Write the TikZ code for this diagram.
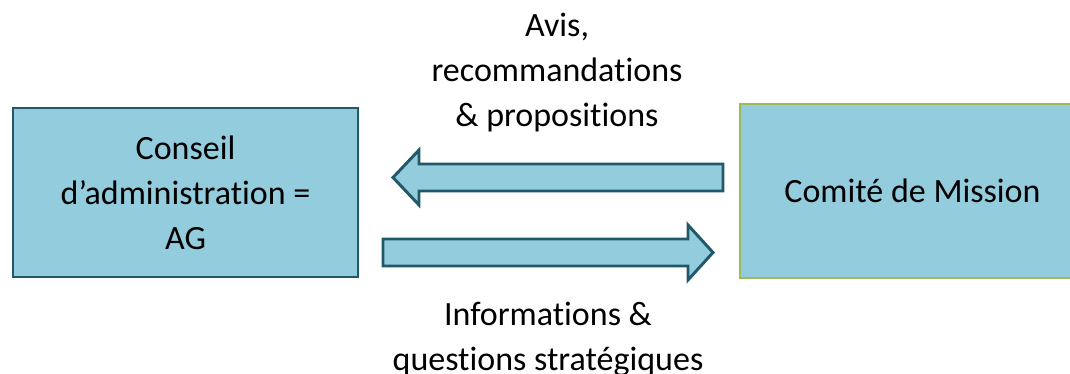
\documentclass[tikz,border=0pt]{standalone}
\usepackage{fontspec}
\setmainfont{Carlito}[Ligatures=NoCommon]
\definecolor{boxfill}{HTML}{93CDDD}
\definecolor{tealdark}{HTML}{215968}
\definecolor{olive}{HTML}{9BBB59}
\begin{document}
\begin{tikzpicture}[x=0.75pt,y=-0.75pt,
  lbl/.style={font=\fontsize{25.5}{33.75}\selectfont, align=center, inner sep=0pt},
  boxnode/.style={fill=boxfill, anchor=north west, inner sep=0pt, lbl},
  blockarrow/.style={draw=tealdark, fill=boxfill, line width=2.2pt, line join=miter}]
\useasboundingbox (0,0) rectangle (1070,374);
\begin{scope}
\clip (0,0) rectangle (1070,374);
\node[boxnode, draw=tealdark, line width=1.6pt, minimum width=258.75pt, minimum height=126.75pt] (ca) at (12,107) {Conseil\\d’administration =\\AG};
\node[boxnode, draw=olive, line width=1.5pt, minimum width=258.75pt, minimum height=130.5pt] (cm) at (739,103) {Comité de Mission};
\end{scope}
% upper arrow (to the left)
\draw[blockarrow] (723,164) -- (419,164) -- (419,150) -- (393,177.5) -- (419,205) -- (419,191) -- (723,191) -- cycle;
% lower arrow (to the right)
\draw[blockarrow] (383,239) -- (688,239) -- (688,225) -- (713,252.5) -- (688,280) -- (688,266) -- (383,266) -- cycle;
\node[lbl, anchor=base] (top) at (557,127) {Avis,\\recommandations\\\& propositions};
\node[lbl, anchor=base] (bot) at (548,370) {Informations \&\\questions stratégiques};
\end{tikzpicture}
\end{document}
